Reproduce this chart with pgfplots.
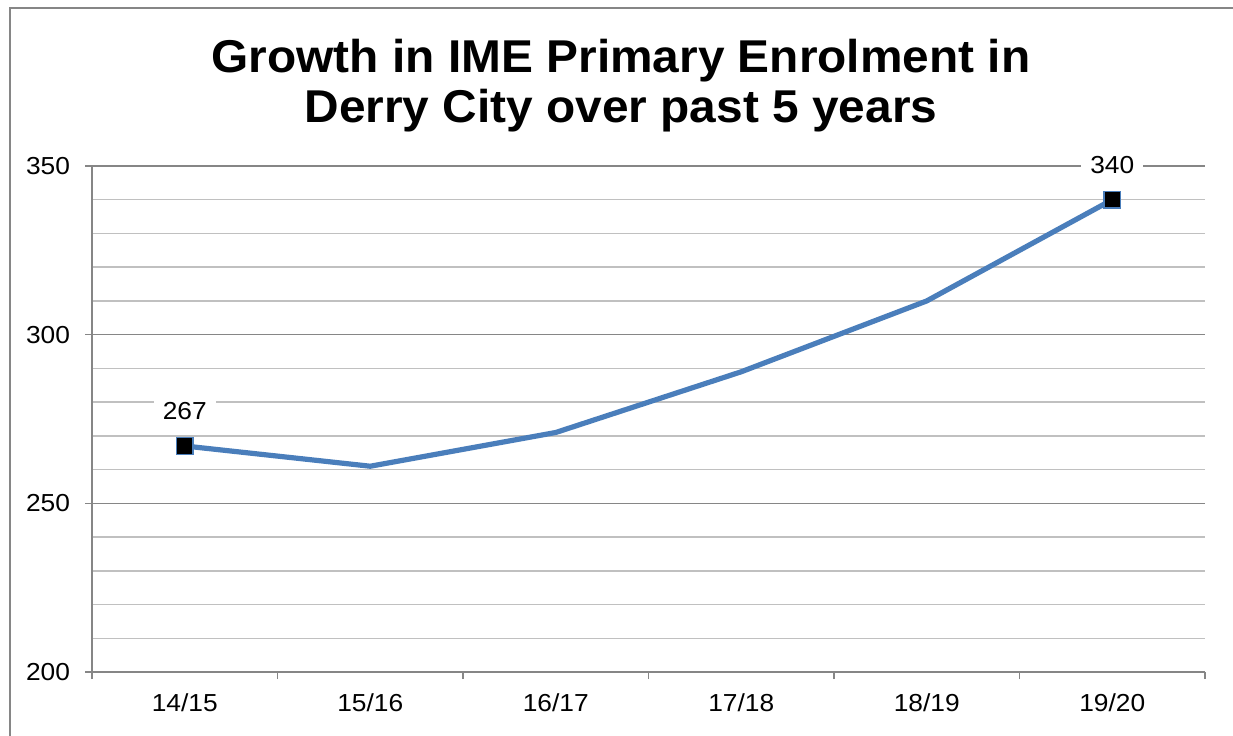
\documentclass[border=0pt]{standalone}
\usepackage{fontspec}
\setmainfont{Liberation Sans}[FakeStretch=1.07]
\newfontfamily\titlefont{Liberation Sans}[FakeStretch=1.04]
\usepackage{pgfplots}
\pgfplotsset{compat=1.18}
\definecolor{serblue}{HTML}{4A7EBB}
\definecolor{axgray}{HTML}{868686}
\definecolor{mingray}{HTML}{C0C0C0}
\begin{document}
\begin{tikzpicture}
\useasboundingbox (0,0) rectangle (616.5pt,367.5pt);
\draw[axgray, line width=1pt] (5pt,-5pt) -- (5pt,363.5pt) -- (625pt,363.5pt);
\node[anchor=base, inner sep=0pt, font=\titlefont\bfseries\fontsize{23}{27}\selectfont] at (310.5pt,331.2pt) {Growth in IME Primary Enrolment in};
\node[anchor=base, inner sep=0pt, font=\titlefont\bfseries\fontsize{23}{27}\selectfont] at (310.5pt,306.2pt) {Derry City over past 5 years};
\begin{axis}[at={(46pt,31.5pt)}, anchor=south west, scale only axis,
  width=556.5pt, height=253pt,
  xmin=0.5, xmax=6.5, ymin=200, ymax=350,
  xtick={1,2,3,4,5,6},
  xticklabels={14/15,15/16,16/17,17/18,18/19,19/20},
  minor xtick={0.5,1.5,2.5,3.5,4.5,5.5,6.5},
  ytick={200,250,300,350},
  minor ytick={210,220,230,240,260,270,280,290,310,320,330,340},
  ymajorgrids, yminorgrids,
  major grid style={axgray, line width=0.75pt},
  minor grid style={mingray, line width=0.75pt},
  axis x line*=bottom, axis y line*=left,
  axis line style={axgray, line width=0.75pt},
  tick align=outside, major tick length=3.5pt, minor tick length=3.5pt,
  tick style={axgray, line width=0.75pt},
  major x tick style={opacity=0},
  minor y tick style={opacity=0},
  ticklabel style={font=\fontsize{12.3}{15}\selectfont},
  xticklabel style={anchor=base, yshift=-16pt},
  yticklabel style={xshift=-4pt},
  /pgf/number format/assume math mode=true,
  clip=false,
]
\addplot[serblue, line width=2.6pt, line join=round, mark=none]
  coordinates {(1,267) (2,261) (3,271) (4,289) (5,310) (6,340)};
\addplot[only marks, mark=square*, mark size=4.2pt,
  mark options={fill=black, draw=serblue, line width=0.7pt},
  nodes near coords,
  nodes near coords style={anchor=center, yshift=17.5pt, fill=white,
    inner xsep=4.6pt, inner ysep=1pt, font=\fontsize{12.3}{15}\selectfont, text=black}]
  coordinates {(1,267) (6,340)};
\end{axis}
\end{tikzpicture}
\end{document}
